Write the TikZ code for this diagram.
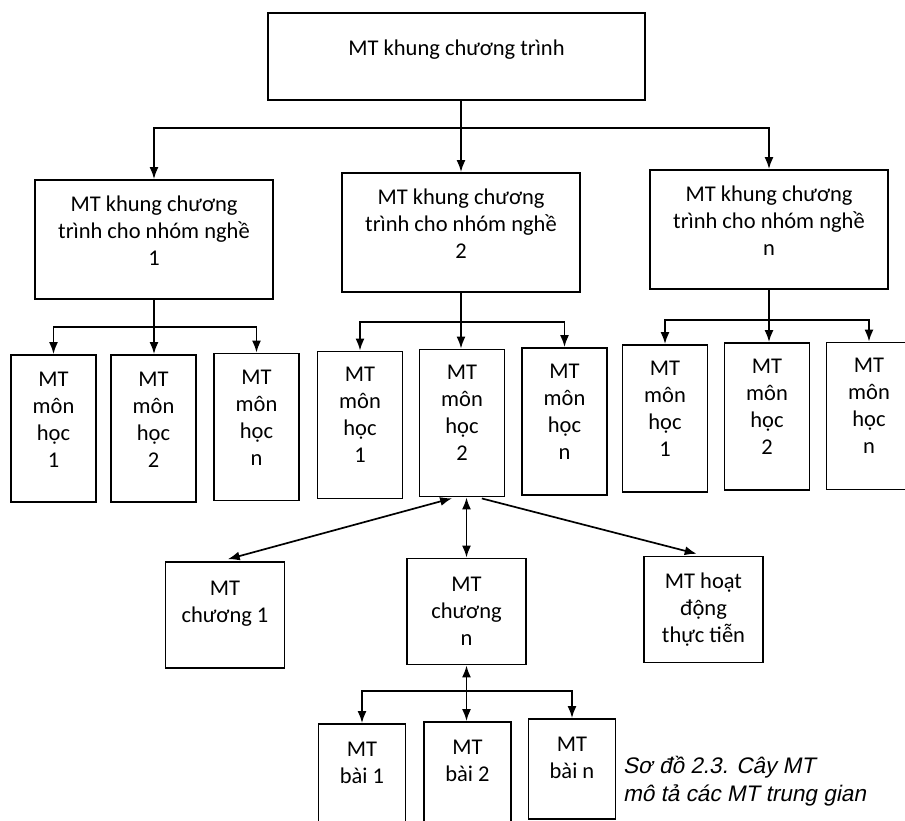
\documentclass[tikz,border=0pt]{standalone}
\usepackage{fontspec}
\setmainfont{Carlito}
\newfontfamily\capfont[FakeSlant=0.2]{Liberation Sans}
\usetikzlibrary{arrows.meta,positioning}
\tikzset{
        block/.style = {draw, rectangle, line width=1.9pt, align=center,
            inner sep=0pt, font=\fontsize{22.5}{27}\selectfont},
        head/.style = {block, minimum width=377pt, minimum height=87pt, text depth=17pt},
        group/.style = {block, minimum width=238pt, minimum height=119pt, text depth=17pt},
        subject/.style = {block, minimum width=85pt, minimum height=147pt, text depth=18pt},
        chapter/.style = {block, minimum width=119pt, minimum height=106pt},
        lesson/.style = {block, minimum width=87pt, minimum height=100pt, text depth=23pt},
        arrow/.style = {draw, line width=1.7pt, -{Latex[length=12pt,width=9pt]}},
        twoway/.style = {draw, line width=1.7pt,
            {Latex[length=12pt,width=9pt]}-{Latex[length=12pt,width=9pt]}},
        caption/.style = {align=left, inner sep=0pt,
            font=\capfont\fontsize{22.5}{28}\selectfont},
    }

\begin{document}
\begin{tikzpicture}[x=1pt,y=-1pt]
        \useasboundingbox (0,0) rectangle (905,820);

        % top and groups of trades
        \node[head] (top) at (456.5,56.5) {MT khung chương trình};
        \node[group] (g1) at (154,239.5) {MT khung chương\\trình cho nhóm nghề\\1};
        \node[group] (g2) at (461,232.5) {MT khung chương\\trình cho nhóm nghề\\2};
        \node[group] (gn) at (769,229.5) {MT khung chương\\trình cho nhóm nghề\\n};

        % subjects
        \node[subject] (m11) at (53.5,428.5) {MT\\môn\\học\\1};
        \node[subject] (m12) at (153.5,428.5) {MT\\môn\\học\\2};
        \node[subject] (m1n) at (256.5,427) {MT\\môn\\học\\n};
        \node[subject, text depth=20pt] (m21) at (360,425) {MT\\môn\\học\\1};
        \node[subject, text depth=20pt] (m22) at (462,423) {MT\\môn\\học\\2};
        \node[subject, text depth=20pt] (m2n) at (564.5,421.5) {MT\\môn\\học\\n};
        \node[subject, text depth=20pt] (mn1) at (665,418.5) {MT\\môn\\học\\1};
        \node[subject, text depth=20pt] (mn2) at (767,416.5) {MT\\môn\\học\\2};
        \node[subject, text depth=20pt] (mnn) at (869,416) {MT\\môn\\học\\n};

        % chapters
        \node[chapter, text depth=27pt] (ch1) at (225,615) {MT\\chương 1};
        \node[chapter] (chn) at (466.5,611.5) {MT\\chương\\n};
        \node[chapter] (hd) at (703.5,609.5) {MT hoạt\\động\\thực tiễn};

        % lessons
        \node[lesson] (b1) at (362,774) {MT\\bài 1};
        \node[lesson] (b2) at (467.5,772) {MT\\bài 2};
        \node[lesson] (bn) at (572,769) {MT\\bài n};

        \node[caption, anchor=west] (cap) at (623,781) {Sơ đồ 2.3. Cây MT\\mô tả các MT trung gian};

        % connectors
        \coordinate (bus0) at (460,128);
        \coordinate (bus1) at (154,327);
        \coordinate (bus2) at (461,322);
        \coordinate (bus3) at (769,320);
        \coordinate (bus4) at (468,691);

        \draw[arrow] (top.south -| g2.north) -- (g2.north);
        \draw[twoway] (g1.north) |- (bus0 -| gn.north) -- (gn.north);

        \draw[arrow] (g1.south) -- (g1.south |- m12.north);
        \draw[twoway] (m11.north) |- (bus1 -| m1n.north) -- (m1n.north);
        \draw[arrow] (g2.south) -- (g2.south |- m22.north);
        \draw[twoway] (m21.north) |- (bus2 -| m2n.north) -- (m2n.north);
        \draw[arrow] (gn.south) -- (gn.south |- mn2.north);
        \draw[twoway] (mn1.north) |- (bus3 -| mnn.north) -- (mnn.north);

        \draw[twoway, shorten >=7pt, shorten <=3pt] ([xshift=-7pt]m22.south) -- ([xshift=-4pt]ch1.north);
        \draw[twoway] (m22.south -| chn.north) -- (chn.north);
        \draw[arrow, shorten >=7pt, shorten <=4pt] ([xshift=16pt]m22.south) -- (hd.north);

        \draw[twoway] (chn.south) -- (chn.south |- b2.north);
        \draw[twoway] (b1.north) |- (bus4 -| bn.north) -- (bn.north);
    \end{tikzpicture}
\end{document}
